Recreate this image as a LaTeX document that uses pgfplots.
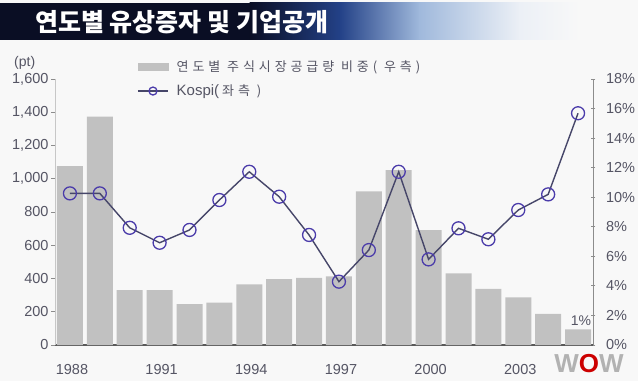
\documentclass[border=0pt]{standalone}
\usepackage{fontspec}
\setmainfont{Liberation Sans}
\newfontfamily\kr{Noto Sans CJK KR}
\newfontfamily\krwide{Noto Sans CJK KR}[LetterSpace=30]
\usepackage{pgfplots}
\pgfplotsset{compat=1.18}
\pgfplotsset{kospi legend/.style={legend image code/.code={\draw[mark repeat=2, mark phase=2, ##1, mark size=4pt] plot coordinates {(0pt,0pt) (15pt,0pt) (30pt,0pt)};}}}
\definecolor{bg}{RGB}{248,248,248}
\definecolor{barc}{RGB}{193,193,193}
\definecolor{linec}{RGB}{70,70,105}
\definecolor{markc}{RGB}{75,60,170}
\definecolor{txt}{RGB}{85,85,100}
\definecolor{navy}{RGB}{10,14,36}
\definecolor{midblue}{RGB}{35,65,135}
\definecolor{lightblue}{RGB}{160,185,220}
\definecolor{paleblue}{RGB}{236,240,246}
\begin{document}
\begin{tikzpicture}
\path[use as bounding box, fill=bg] (0pt,0pt) rectangle (638pt,381pt);
% title banner
\fill[navy] (0pt,341pt) rectangle (250pt,378pt);
\shade[left color=navy, right color=midblue] (249.5pt,341pt) rectangle (340pt,378pt);
\shade[left color=midblue, right color=lightblue] (339.5pt,341pt) rectangle (420pt,378pt);
\shade[left color=lightblue, right color=paleblue] (419.5pt,341pt) rectangle (520pt,378pt);
\shade[left color=paleblue, right color=bg] (519.5pt,341pt) rectangle (580pt,378pt);
\node[anchor=west, text=white, font=\kr\bfseries\fontsize{25}{25}\selectfont, inner sep=0] at (35pt,359pt) {연도별 유상증자 및 기업공개};
\node[anchor=west, text=txt, font=\fontsize{14}{14}\selectfont, inner sep=0] at (14pt,318pt) {(pt)};

% bars, right axis
\begin{axis}[
  at={(55pt,36pt)}, anchor=south west, scale only axis,
  width=538pt, height=266pt,
  xmin=1987.5, xmax=2005.5, ymin=0, ymax=18,
  axis y line*=right, axis x line*=bottom,
  ytick={0,2,...,18},
  yticklabels={0\%,2\%,4\%,6\%,8\%,10\%,12\%,14\%,16\%,18\%},
  xtick={1988,1991,1994,1997,2000,2003},
  xticklabels={1988,1991,1994,1997,2000,2003},
  x axis line style={draw=black!65, line width=1.5pt},
  y axis line style={draw=black!45, line width=0.8pt},
  xtick style={draw=none},
  ytick style={draw=black!45, line width=0.8pt},
  tick align=center, major tick length=5pt,
  ticklabel style={font=\fontsize{14.5}{14.5}\selectfont, text=txt},
  xticklabel style={yshift=-13pt, xshift=2pt},
  yticklabel style={xshift=7pt},
  clip=false,
]
\addplot[ybar, bar width=26pt, fill=barc, draw=none] coordinates {
(1988,12.1) (1989,15.45) (1990,3.72) (1991,3.72) (1992,2.77) (1993,2.86)
(1994,4.1) (1995,4.45) (1996,4.55) (1997,4.65) (1998,10.4) (1999,11.84)
(2000,7.78) (2001,4.85) (2002,3.79) (2003,3.23) (2004,2.1) (2005,1.06)};
\node[anchor=south, font=\fontsize{14}{14}\selectfont, text=txt, inner sep=1pt] at (axis cs:2005.1,1.25) {1\%};
\end{axis}

% line, left axis
\begin{axis}[
  at={(55pt,36pt)}, anchor=south west, scale only axis,
  width=538pt, height=266pt,
  xmin=1987.5, xmax=2005.5, ymin=0, ymax=1600,
  axis y line*=left, axis x line=none,
  ytick={0,200,...,1600},
  yticklabels={0,200,400,600,800,{1,000},{1,200},{1,400},{1,600}},
  y axis line style={draw=black!22, line width=0.8pt},
  ytick style={draw=black!45, line width=0.8pt},
  tick align=outside, major tick length=4pt,
  ticklabel style={font=\fontsize{14.5}{14.5}\selectfont, text=txt},
  yticklabel style={xshift=1pt},
  clip=false,
  legend style={at={(0.147,1.085)}, anchor=north west, draw=none, fill=none,
    font=\krwide\fontsize{13}{13}\selectfont, text=txt, row sep=8pt,
    cells={anchor=west}},
]
\addlegendimage{legend image code/.code={\fill[barc] (0pt,-3.5pt) rectangle (30pt,3.5pt);}}
\addlegendentry{\hspace{6pt}연도별 주식시장공급량 비중( 우측)}
\addplot[color=linec, line width=1.4pt, mark=o, mark size=6.5pt,
  mark options={draw=markc, line width=1.3pt}, kospi legend]
coordinates {
(1988,912) (1989,912) (1990,705) (1991,615) (1992,692) (1993,872)
(1994,1042) (1995,892) (1996,662) (1997,381) (1998,571) (1999,1042)
(2000,515) (2001,702) (2002,636) (2003,812) (2004,906) (2005,1394)};
\addlegendentry{\hspace{6pt}{\rmfamily\fontsize{15}{15}\selectfont Kospi(}\hspace{3pt}좌측 )}
\end{axis}

% broadcaster logo
\node[anchor=center, font=\bfseries\fontsize{26}{26}\selectfont, inner sep=0] at (589pt,17pt) {\textcolor{black!30}{W}\textcolor{red!80!black}{O}\textcolor{black!30}{W}};
\end{tikzpicture}
\end{document}
